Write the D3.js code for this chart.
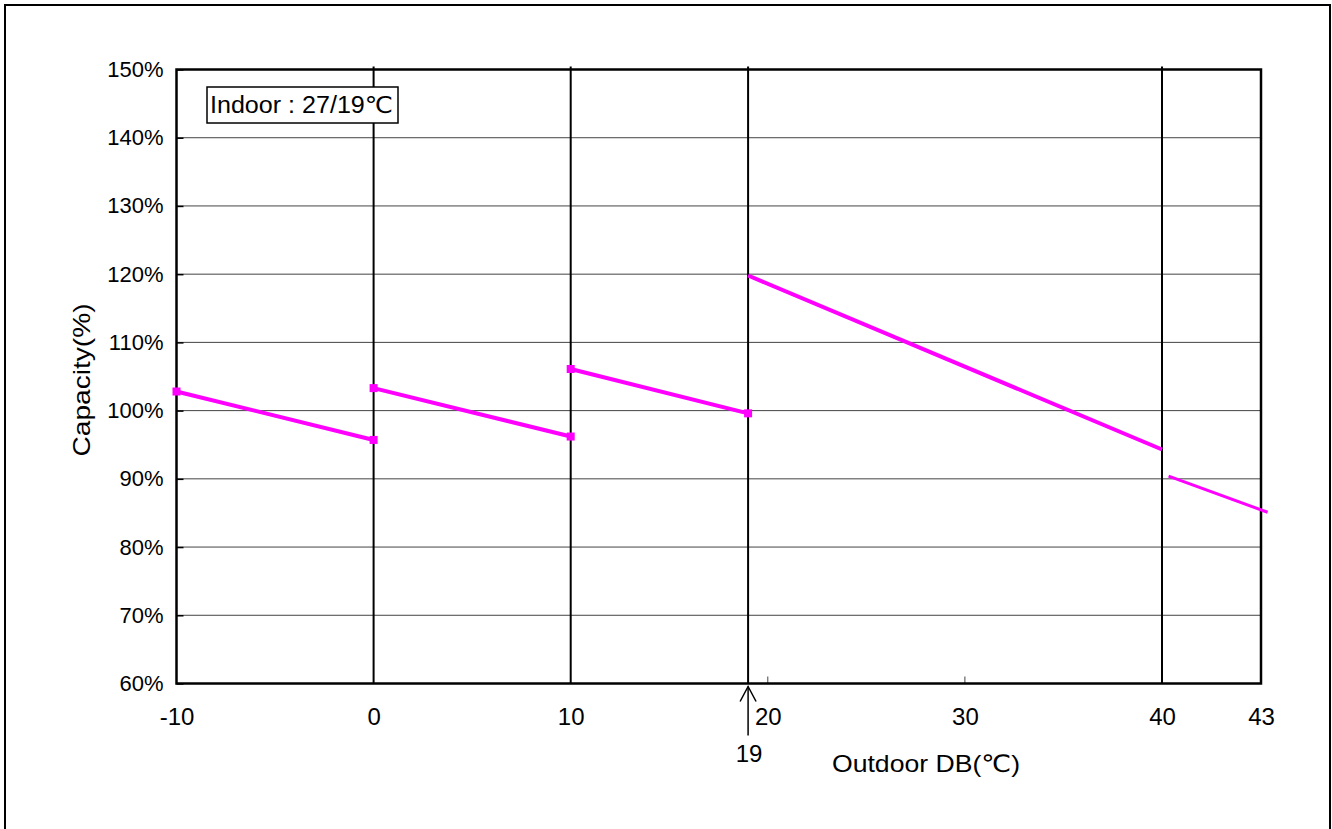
<!DOCTYPE html>
<html>
<head>
<meta charset="utf-8">
<script src="https://cdn.jsdelivr.net/npm/d3@7"></script>
<style>
  html, body { margin: 0; padding: 0; background: #fff; }
  svg { display: block; font-family: "Liberation Sans", Arial, "DejaVu Sans", sans-serif; }
</style>
</head>
<body>
<svg id="chart" width="1332" height="829"></svg>
<script>
// ---- Data ----
const yTicks = [60, 70, 80, 90, 100, 110, 120, 130, 140, 150];
const xTickLabels = ["-10", "0", "10", "20", "30", "40", "43"];
const xTickValues = [-10, 0, 10, 20, 30, 40, 43];
const xFullLines = [0, 10, 19, 40];
const xShortTicks = [20, 30];
const markedX = 19;
const segmentStartX = [-10, 0, 10, 19, 40.2];
const segmentEndX   = [0, 10, 19, 40, 43.2];
const segmentStartY = [102.8, 103.3, 106.1, 119.8, 90.4];
const segmentEndY   = [95.7, 96.2, 99.6, 94.3, 85.1];
const legendText = "Indoor : 27/19\u2103";
const xTitle = "Outdoor DB(\u2103)";
const yTitle = "Capacity(%)";

// ---- Layout ----
const svg = d3.select("#chart");
const L = 176.5, R = 1261, T = 69.5, B = 683.5;
const x = d3.scaleLinear().domain([-10, 40, 43]).range([L, 1162, R]);
const y = d3.scaleLinear().domain([60, 150]).range([B, T]);

// outer border
svg.append("rect").attr("x", 5).attr("y", 5).attr("width", 1325).attr("height", 840)
  .attr("fill", "none").attr("stroke", "#000").attr("stroke-width", 2);

// horizontal gridlines
svg.append("g").selectAll("line").data(yTicks.slice(1, -1)).join("line")
  .attr("x1", L).attr("x2", R).attr("y1", d => y(d)).attr("y2", d => y(d))
  .attr("stroke", "#444").attr("stroke-width", 1);

// y axis ticks and labels
const yAxis = d3.axisLeft(y).tickValues(yTicks).tickSize(-7).tickPadding(13)
  .tickFormat(d => d + "%");
const gy = svg.append("g").attr("transform", `translate(${L},0)`).call(yAxis);
gy.select(".domain").remove();
gy.selectAll(".tick line").attr("stroke", "#000").attr("stroke-width", 1.5);
gy.selectAll(".tick text").attr("font-size", 22).attr("fill", "#000")
  .attr("font-family", "'Liberation Sans', Arial, sans-serif");

// full vertical lines
svg.append("g").selectAll("line").data(xFullLines).join("line")
  .attr("x1", d => x(d)).attr("x2", d => x(d)).attr("y1", T - 3).attr("y2", B)
  .attr("stroke", "#000").attr("stroke-width", 2);

// short ticks
svg.append("g").selectAll("line").data(xShortTicks).join("line")
  .attr("x1", d => x(d)).attr("x2", d => x(d)).attr("y1", B - 7).attr("y2", B)
  .attr("stroke", "#444").attr("stroke-width", 1);

// x tick labels
const xAxis = d3.axisBottom(x).tickValues(xTickValues).tickSize(0).tickPadding(24)
  .tickFormat((d, i) => xTickLabels[i]);
const gx = svg.append("g").attr("transform", `translate(0,${B})`).call(xAxis);
gx.select(".domain").remove();
gx.selectAll(".tick text").attr("font-size", 24).attr("fill", "#000")
  .attr("font-family", "'Liberation Sans', Arial, sans-serif");

// plot frame
svg.append("rect").attr("x", L).attr("y", T).attr("width", R - L).attr("height", B - T)
  .attr("fill", "none").attr("stroke", "#000").attr("stroke-width", 2.5);

// 19 arrow
const ax = x(markedX);
svg.append("line").attr("x1", ax).attr("x2", ax).attr("y1", B + 3).attr("y2", B + 52)
  .attr("stroke", "#000").attr("stroke-width", 1.5);
svg.append("path").attr("d", `M${ax - 8},${B + 18} L${ax},${B + 3} L${ax + 8},${B + 18}`)
  .attr("fill", "none").attr("stroke", "#000").attr("stroke-width", 1.5);
svg.append("text").attr("x", ax + 1).attr("y", 762).attr("text-anchor", "middle")
  .attr("font-size", 24).text(String(markedX));

// axis titles
svg.append("text").attr("x", 832).attr("y", 772).attr("font-size", 24)
  .attr("textLength", 188).attr("lengthAdjust", "spacingAndGlyphs").text(xTitle);
svg.append("text").attr("transform", "translate(90,380) rotate(-90)")
  .attr("text-anchor", "middle").attr("font-size", 24)
  .attr("textLength", 153).attr("lengthAdjust", "spacingAndGlyphs").text(yTitle);

// data segments
const segs = segmentStartX.map((sx, i) => ({
  pts: [[sx, segmentStartY[i]], [segmentEndX[i], segmentEndY[i]]], i
}));
const line = d3.line().x(d => x(d[0])).y(d => y(d[1]));
svg.append("g").selectAll("path").data(segs).join("path")
  .attr("d", d => line(d.pts)).attr("fill", "none").attr("stroke", "#FF00FF")
  .attr("stroke-width", d => d.i === 4 ? 3 : 4);
const markerPts = segs.filter(s => s.i < 3).flatMap(s => s.pts);
svg.append("g").selectAll("rect").data(markerPts).join("rect")
  .attr("x", d => x(d[0]) - 4).attr("y", d => y(d[1]) - 4)
  .attr("width", 8).attr("height", 8).attr("fill", "#FF00FF");

// legend box
svg.append("rect").attr("x", 207).attr("y", 87).attr("width", 191).attr("height", 36)
  .attr("fill", "#fff").attr("stroke", "#000").attr("stroke-width", 1.5);
svg.append("text").attr("x", 210).attr("y", 113).attr("font-size", 23)
  .attr("textLength", 183).attr("lengthAdjust", "spacingAndGlyphs").text(legendText);
</script>
</body>
</html>
